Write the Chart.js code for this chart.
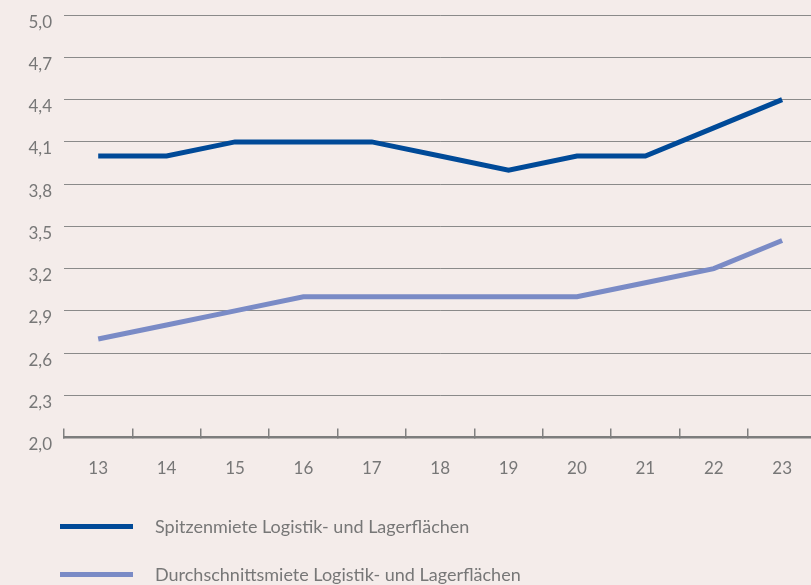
<!DOCTYPE html>
<html>
<head>
<meta charset="utf-8">
<script src="https://cdn.jsdelivr.net/npm/chart.js@4.4.1/dist/chart.umd.min.js"></script>
<style>
  html, body { margin: 0; padding: 0; background: #f4ecea; }
  #wrap { position: relative; width: 811px; height: 585px; overflow: hidden; }
  #box { position: absolute; left: 0; top: -7px; width: 822px; height: 516px; }
  #legend { position: absolute; left: 60px; top: 508px; font-family: Lato, sans-serif; font-size: 18px; color: #777777; }
  .item { display: flex; align-items: center; height: 36px; margin-bottom: 12px; }
  .swatch { width: 73px; height: 5px; margin-right: 22px; }
</style>
</head>
<body>
<div id="wrap">
  <div id="box"><canvas id="lineChart"></canvas></div>
  <div id="legend"></div>
</div>
<script>
// Jahre (20xx)
const years = ['13', '14', '15', '16', '17', '18', '19', '20', '21', '22', '23'];
// Mieten in EUR/m²
const spitzenmiete = [4.0, 4.0, 4.1, 4.1, 4.1, 4.0, 3.9, 4.0, 4.0, 4.2, 4.4];
const durchschnittsmiete = [2.7, 2.8, 2.9, 3.0, 3.0, 3.0, 3.0, 3.0, 3.1, 3.2, 3.4];
const yTicks = [2.0, 2.3, 2.6, 2.9, 3.2, 3.5, 3.8, 4.1, 4.4, 4.7, 5.0];

const seriesLabels = ['Spitzenmiete Logistik- und Lagerflächen', 'Durchschnittsmiete Logistik- und Lagerflächen'];
const seriesColors = ['#004a98', '#7a8bc6'];

document.addEventListener("DOMContentLoaded", function() {
    const ctx = document.getElementById('lineChart').getContext('2d');
    const labelFont = { family: 'Lato, sans-serif', size: 17 };

    const chartData = {
        labels: years,
        datasets: [
            { label: seriesLabels[0], data: spitzenmiete, borderColor: seriesColors[0] },
            { label: seriesLabels[1], data: durchschnittsmiete, borderColor: seriesColors[1] }
        ]
    };

    new Chart(ctx, {
        type: 'line',
        data: chartData,
        options: {
            responsive: true,
            maintainAspectRatio: false,
            animation: false,
            layout: { padding: { top: 3, right: 0, bottom: 0, left: 0 } },
            elements: {
                line: { borderWidth: 5, tension: 0, borderCapStyle: 'butt' },
                point: { radius: 0 }
            },
            plugins: { legend: { display: false }, tooltip: { enabled: false } },
            scales: {
                x: {
                    offset: true,
                    grid: { offset: true, drawOnChartArea: false, tickLength: -9, color: '#808080', lineWidth: 1.5 },
                    border: { color: '#7d7d7d', width: 2.5 },
                    ticks: { color: '#777777', font: labelFont, padding: 30 }
                },
                y: {
                    min: 2.0,
                    max: 5.0,
                    afterFit: function(scale) { scale.width = 64; },
                    afterBuildTicks: function(scale) {
                        scale.ticks = yTicks.map(v => ({ value: v }));
                    },
                    grid: { color: '#8a8a8a', lineWidth: 1, drawTicks: false },
                    border: { display: false },
                    ticks: {
                        color: '#777777',
                        font: labelFont,
                        padding: 12,
                        labelOffset: 7,
                        callback: function(value) {
                            return value.toFixed(1).replace('.', ',');
                        }
                    }
                }
            }
        }
    });

    // Legende als HTML
    const legend = document.getElementById('legend');
    seriesLabels.forEach((label, i) => {
        const item = document.createElement('div');
        item.className = 'item';
        const swatch = document.createElement('span');
        swatch.className = 'swatch';
        swatch.style.background = seriesColors[i];
        const text = document.createElement('span');
        text.textContent = label;
        item.appendChild(swatch);
        item.appendChild(text);
        legend.appendChild(item);
    });
});
</script>
</body>
</html>
